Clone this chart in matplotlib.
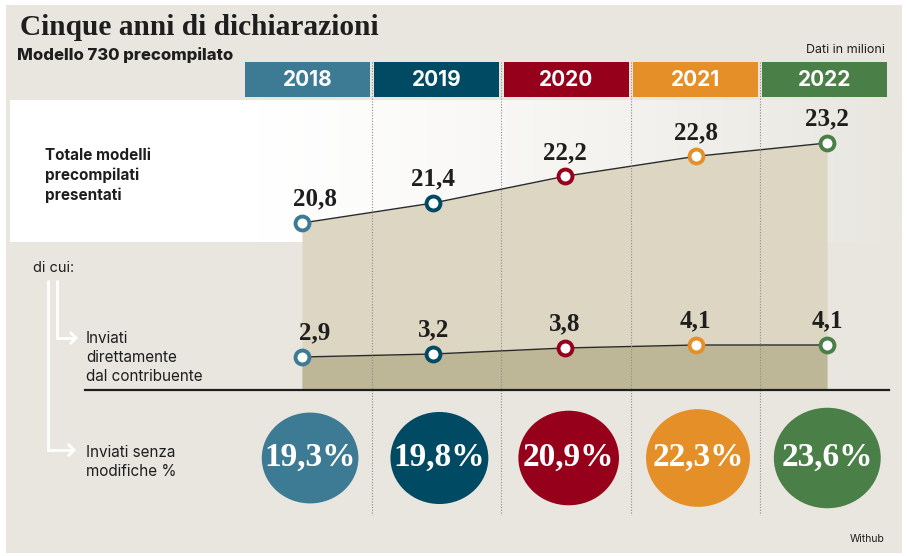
"""Cinque anni di dichiarazioni - Modello 730 precompilato."""

import matplotlib
import numpy as np

matplotlib.use("Agg")

from matplotlib import pyplot as plt  # noqa: E402
from matplotlib.markers import MarkerStyle  # noqa: E402
from matplotlib.path import Path  # noqa: E402
from matplotlib.transforms import Affine2D  # noqa: E402

YEARS = ["2018", "2019", "2020", "2021", "2022"]
TOTAL_PRECOMPILED = [20.8, 21.4, 22.2, 22.8, 23.2]
SENT_DIRECTLY = [2.9, 3.2, 3.8, 4.1, 4.1]
SENT_UNCHANGED_PCT = [19.3, 19.8, 20.9, 22.3, 23.6]
YEAR_COLORS = ["#3d7a93", "#004a63", "#96001b", "#e48f27", "#4b7f48"]

W, H = 907, 556
PANEL = "#e8e6df"
FILL_TOTAL = "#dcd6c3"
FILL_DIRECT = "#bdb697"
INK = "#1e1e1e"
SERIF = "Liberation Serif"
SANS = "Inter"


def fig_rect(left, top, right, bottom):
    """Pixel box -> figure fraction rect."""
    return [left / W, 1 - bottom / H, (right - left) / W, (bottom - top) / H]


def it_num(value, suffix=""):
    return f"{value:.1f}".replace(".", ",") + suffix


fig = plt.figure(figsize=(W / 100, H / 100), dpi=100, facecolor="white")

# canvas in pixel coordinates for the frame and the text blocks
canvas = fig.add_axes([0, 0, 1, 1], zorder=0)
canvas.set_xlim(0, W)
canvas.set_ylim(H, 0)
canvas.axis("off")
canvas.add_patch(plt.Rectangle((6, 5), 896, 548, color=PANEL, lw=0))

# white band fading into the panel colour
xs = np.linspace(10, 902, 400)
t = np.clip((xs - 260) / 640, 0, 1)[:, None] ** 1.2
white = np.array([1.0, 1.0, 1.0])
beige = np.array(matplotlib.colors.to_rgb(PANEL))
grad = (white * (1 - t) + beige * t)[None, :, :]
canvas.imshow(grad, extent=(10, 902, 242, 100), aspect="auto", zorder=1)
canvas.set_xlim(0, W)
canvas.set_ylim(H, 0)

canvas.text(20, 35, "Cinque anni di dichiarazioni", family=SERIF,
            fontweight="bold", fontsize=21.2, color=INK, va="baseline")
canvas.text(17, 60, "Modello 730 precompilato", family=SANS,
            fontweight="heavy", fontsize=12, color=INK, va="baseline")
canvas.text(885, 53, "Dati in milioni", family=SANS, fontsize=9,
            color=INK, ha="right", va="baseline")
canvas.text(885, 542, "Withub", family=SANS, fontsize=7.5,
            color=INK, ha="right", va="baseline")

# multi-line blocks: y is the baseline of the last line
canvas.text(45, 200, "Totale modelli\nprecompilati\npresentati", family=SANS,
            fontweight="bold", fontsize=11, color=INK, va="baseline",
            linespacing=1.35)
canvas.text(33, 272, "di cui:", family=SANS, fontsize=10.5, color=INK,
            va="baseline")
canvas.text(86, 381, "Inviati\ndirettamente\ndal contribuente", family=SANS,
            fontsize=11, color=INK, va="baseline", linespacing=1.35)
canvas.text(86, 476, "Inviati senza\nmodifiche %", family=SANS,
            fontsize=11, color=INK, va="baseline", linespacing=1.3)

# white connector arrows
arrow_kw = dict(color="white", lw=2.0, solid_joinstyle="miter",
                solid_capstyle="butt", zorder=2)
canvas.plot([57, 57, 76], [280, 338, 338], **arrow_kw)
canvas.plot([70, 76, 70], [332, 338, 344], **arrow_kw)
canvas.plot([48, 48, 74], [280, 450, 450], **arrow_kw)
canvas.plot([68, 74, 68], [444, 450, 456], **arrow_kw)

x = np.arange(len(YEARS))

# totals: own vertical scale
ax_tot = fig.add_axes(fig_rect(302, 100, 827, 390), zorder=2)
ax_tot.set_xlim(0, 4)
ax_tot.set_ylim(15.79, 24.49)
ax_tot.axis("off")
ax_tot.fill_between(x, TOTAL_PRECOMPILED, ax_tot.get_ylim()[0],
                    color=FILL_TOTAL, lw=0)

# sent directly: own vertical scale
ax_dir = fig.add_axes(fig_rect(302, 300, 827, 390), zorder=3)
ax_dir.set_xlim(0, 4)
ax_dir.set_ylim(-0.4, 8.6)
ax_dir.axis("off")
ax_dir.fill_between(x, SENT_DIRECTLY, ax_dir.get_ylim()[0],
                    color=FILL_DIRECT, lw=0)

for ax, values in ((ax_tot, TOTAL_PRECOMPILED), (ax_dir, SENT_DIRECTLY)):
    ax.plot(x, values, color="#2a2a2a", lw=1.0, zorder=3, clip_on=False)
    for i, v in enumerate(values):
        ax.plot(x[i], v, "o", ms=10, mew=2.8, mec=YEAR_COLORS[i],
                mfc="white", zorder=4, clip_on=False)
        ax.annotate(it_num(v), (x[i], v), xytext=(9 if i == 0 else 0, 12.5),
                    textcoords="offset points", ha="center", va="baseline",
                    family=SERIF, fontweight="bold", fontsize=18, color=INK,
                    annotation_clip=False)

# year columns: headers, separators, percentage bubbles
col = fig.add_axes(fig_rect(242.85, 0, 889.35, H), zorder=5)
col.set_xlim(-0.5, 4.5)
col.set_ylim(H, 0)
col.axis("off")
col.patch.set_alpha(0)

col.bar(x, 35, bottom=62, width=0.967, color=YEAR_COLORS, lw=0)
for i, year in enumerate(YEARS):
    col.text(x[i], 80.5, year, family=SANS, fontweight="bold", fontsize=15,
             color="white", ha="center", va="center")

col.vlines(x[:-1] + 0.5, 62, 515, colors="#8c8c8c", lw=0.8,
           linestyles=(0, (1, 1.5)))
col.plot([85, 889], [390, 390], color=INK, lw=1.6,
         transform=canvas.transData, clip_on=False)

ellipse = MarkerStyle(Path.unit_circle().transformed(Affine2D().scale(1, 0.94)))
col.scatter(x + 0.02, [458] * len(x), s=[251 * v for v in SENT_UNCHANGED_PCT],
            marker=ellipse, c=YEAR_COLORS, linewidths=0)
for i, v in enumerate(SENT_UNCHANGED_PCT):
    col.text(x[i] + 0.02, 457, it_num(v, "%"), family=SERIF,
             fontweight="bold", fontsize=24, color="white",
             ha="center", va="center")

fig.savefig("out.png", dpi=100, facecolor="white")
